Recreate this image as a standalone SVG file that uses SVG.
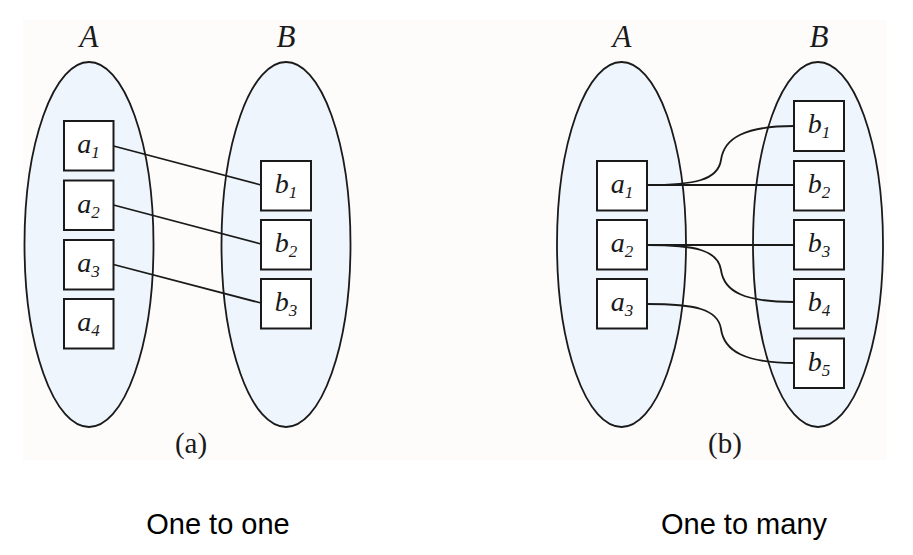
<svg xmlns="http://www.w3.org/2000/svg" width="913" height="555" viewBox="0 0 913 555">
<style>
.set{fill:#eef5fc;stroke:#1a1a1a;stroke-width:1.8}
.box{fill:#ffffff;stroke:#1a1a1a;stroke-width:2}
.lbl{font-family:"Liberation Serif","DejaVu Serif",serif;font-style:italic;font-size:28px;fill:#1a1a1a;text-anchor:middle}
.sub{font-size:17px}
.title{font-family:"Liberation Serif","DejaVu Serif",serif;font-style:italic;font-size:31px;fill:#1a1a1a;text-anchor:middle}
.cap{font-family:"Liberation Serif","DejaVu Serif",serif;font-size:29px;fill:#1a1a1a;text-anchor:middle}
.bottom{font-family:"Liberation Sans",Arial,sans-serif;font-size:29px;fill:#000;text-anchor:middle}
.edge{fill:none;stroke:#1a1a1a;stroke-width:1.8}
</style>
<rect width="913" height="555" fill="#ffffff"/>
<rect x="23" y="20" width="864" height="440" fill="#fdfcfa"/>

<!-- Panel (a) -->
<g id="setA1"><ellipse class="set" cx="89" cy="244.5" rx="64.5" ry="182.5"/><text class="title" x="89" y="47">A</text></g>
<g id="setB1"><ellipse class="set" cx="286" cy="244.5" rx="64.5" ry="182.5"/><text class="title" x="286" y="47">B</text></g>

<g id="connectors-a">
<line class="edge" x1="113.5" y1="146" x2="261" y2="185"/>
<line class="edge" x1="113.5" y1="205" x2="261" y2="244"/>
<line class="edge" x1="113.5" y1="264.5" x2="261" y2="303"/>
</g>

<g id="a1-left"><rect class="box" x="64" y="121" width="49.5" height="49.5"/><text class="lbl" x="88.5" y="153">a<tspan class="sub" dy="5">1</tspan></text></g>
<g id="a2-left"><rect class="box" x="64" y="180.5" width="49.5" height="49.5"/><text class="lbl" x="88.5" y="212.5">a<tspan class="sub" dy="5">2</tspan></text></g>
<g id="a3-left"><rect class="box" x="64" y="240" width="49.5" height="49.5"/><text class="lbl" x="88.5" y="272">a<tspan class="sub" dy="5">3</tspan></text></g>
<g id="a4-left"><rect class="box" x="64" y="299" width="49.5" height="49.5"/><text class="lbl" x="88.5" y="331">a<tspan class="sub" dy="5">4</tspan></text></g>

<g id="b1-left"><rect class="box" x="261" y="161" width="50" height="49.5"/><text class="lbl" x="286" y="193">b<tspan class="sub" dy="5">1</tspan></text></g>
<g id="b2-left"><rect class="box" x="261" y="220" width="50" height="49.5"/><text class="lbl" x="286" y="252">b<tspan class="sub" dy="5">2</tspan></text></g>
<g id="b3-left"><rect class="box" x="261" y="279" width="50" height="49.5"/><text class="lbl" x="286" y="311">b<tspan class="sub" dy="5">3</tspan></text></g>

<text class="cap" x="191" y="453">(a)</text>

<!-- Panel (b) -->
<g id="setA2"><ellipse class="set" cx="621.5" cy="244.5" rx="64.5" ry="182.5"/><text class="title" x="622" y="47">A</text></g>
<g id="setB2"><ellipse class="set" cx="818" cy="244.5" rx="65" ry="182.5"/><text class="title" x="819" y="47">B</text></g>

<g id="connectors-b">
<path class="edge" d="M647,185 C695,185 718,180 721,160 C724,138 745,126 794,126"/>
<line class="edge" x1="647" y1="185" x2="794" y2="185"/>
<line class="edge" x1="647" y1="245" x2="794" y2="245"/>
<path class="edge" d="M647,245 C695,245 718,250 721,270 C724,292 745,302 794,302"/>
<path class="edge" d="M647,304 C695,304 718,309 721,329 C724,351 745,363 794,363"/>
</g>

<g id="a1-right"><rect class="box" x="597" y="161" width="50" height="49.5"/><text class="lbl" x="622" y="193">a<tspan class="sub" dy="5">1</tspan></text></g>
<g id="a2-right"><rect class="box" x="597" y="220" width="50" height="49.5"/><text class="lbl" x="622" y="252">a<tspan class="sub" dy="5">2</tspan></text></g>
<g id="a3-right"><rect class="box" x="597" y="279" width="50" height="49.5"/><text class="lbl" x="622" y="311">a<tspan class="sub" dy="5">3</tspan></text></g>

<g id="b1-right"><rect class="box" x="794" y="101" width="50" height="50"/><text class="lbl" x="819" y="133">b<tspan class="sub" dy="5">1</tspan></text></g>
<g id="b2-right"><rect class="box" x="794" y="161" width="50" height="49.5"/><text class="lbl" x="819" y="193">b<tspan class="sub" dy="5">2</tspan></text></g>
<g id="b3-right"><rect class="box" x="794" y="220" width="50" height="49.5"/><text class="lbl" x="819" y="252">b<tspan class="sub" dy="5">3</tspan></text></g>
<g id="b4-right"><rect class="box" x="794" y="279" width="50" height="49.5"/><text class="lbl" x="819" y="311">b<tspan class="sub" dy="5">4</tspan></text></g>
<g id="b5-right"><rect class="box" x="794" y="338.5" width="50" height="49.5"/><text class="lbl" x="819" y="370.5">b<tspan class="sub" dy="5">5</tspan></text></g>

<text class="cap" x="725" y="453">(b)</text>

<text class="bottom" x="218" y="534">One to one</text>
<text class="bottom" x="744" y="534">One to many</text>
</svg>
